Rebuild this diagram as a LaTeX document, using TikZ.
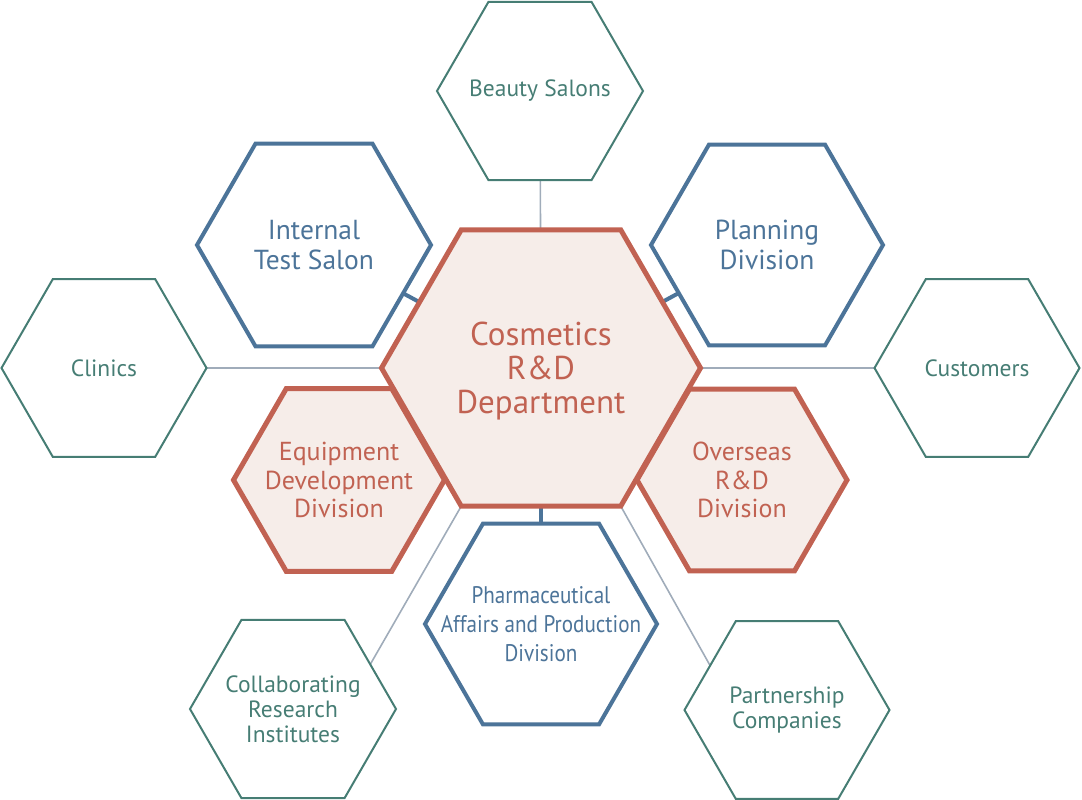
\documentclass[tikz,border=0pt]{standalone}
\usepackage{fontspec}
\setmainfont{PT Sans}
\newfontfamily\narrowfont[FakeStretch=0.88]{PT Sans}
\usetikzlibrary{shapes.geometric,calc}
\definecolor{hexteal}{RGB}{70,125,116}
\definecolor{hexblue}{RGB}{76,116,153}
\definecolor{hexred}{RGB}{193,98,82}
\definecolor{hexfill}{RGB}{246,237,233}
\definecolor{linkgray}{RGB}{160,172,186}
\pgfdeclarelayer{bg}
\pgfsetlayers{bg,main}
\begin{document}
\begin{tikzpicture}[x=1pt,y=-1pt,
  hexa/.style={regular polygon,regular polygon sides=6,inner sep=0pt,outer sep=0pt,minimum size=#1},
  outerhex/.style={hexa=#1,draw=hexteal,line width=2pt},
  bluehex/.style={hexa=#1,draw=hexblue,line width=4pt,fill=white},
  redhex/.style={hexa=#1,draw=hexred,line width=5pt,fill=hexfill},
  outertxt/.style={align=center,text=hexteal,font=\fontsize{23.5}{25}\selectfont},
  bluetxt/.style={align=center,text=hexblue,font=\fontsize{27.5}{30}\selectfont},
  redtxt/.style={align=center,text=hexred,font=\fontsize{26}{28.5}\selectfont},
  graylink/.style={draw=linkgray,line width=1.6pt},
  bluelink/.style={draw=hexblue,line width=4pt}]
\useasboundingbox (0,0) rectangle (1082,800);
% outer (teal) hexagons
\node[outerhex=206] (bs) at (540,91) {};
\node[outerhex=205] (cl) at (104,368) {};
\node[outerhex=205] (cu) at (977,368) {};
\node[outerhex=206] (cri) at (293,709) {};
\node[outerhex=205] (pc) at (787,710) {};
% blue hexagons
\node[bluehex=234] (its) at (314,245) {};
\node[bluehex=232] (pl) at (767,245) {};
\node[bluehex=232] (ph) at (541,624) {};
% red hexagons
\node[redhex=211] (edd) at (339,480) {};
\node[redhex=210] (ov) at (742,480) {};
\node[redhex=319] (main) at (541,368) {};
% connectors
\begin{pgfonlayer}{bg}
\draw[graylink] (bs) -- (main);
\draw[graylink] (cl) -- (main);
\draw[graylink] (cu) -- (main);
\draw[graylink] (main.corner 4) -- ($(cri.corner 6)!0.5!(cri.corner 1)$);
\draw[graylink] (main.corner 5) -- ($(pc.corner 2)!0.5!(pc.corner 3)$);
\draw[bluelink] (its) -- (main);
\draw[bluelink] (pl) -- (main);
\draw[bluelink] (ph) -- (main);
\end{pgfonlayer}
% labels
\node[outertxt] (bsT) at (bs) {Beauty Salons};
\node[outertxt] (clT) at (cl) {Clinics};
\node[outertxt] (cuT) at (cu) {Customers};
\node[outertxt] (criT) at (cri) {Collaborating\\Research\\Institutes};
\node[outertxt] (pcT) at (pc) {Partnership\\Companies};
\node[bluetxt] (itsT) at (its) {Internal\\Test Salon};
\node[bluetxt] (plT) at (pl) {Planning\\Division};
\node[bluetxt,font=\narrowfont\fontsize{24}{29}\selectfont] (phT) at (ph) {Pharmaceutical\\Affairs and Production\\Division};
\node[redtxt] (eddT) at (edd) {Equipment\\Development\\Division};
\node[redtxt] (ovT) at (ov) {Overseas\\R\&D\\Division};
\node[redtxt,font=\fontsize{33}{34}\selectfont] (mainT) at ($(main)+(0,3)$) {Cosmetics\\R\&D\\Department};
\end{tikzpicture}
\end{document}
